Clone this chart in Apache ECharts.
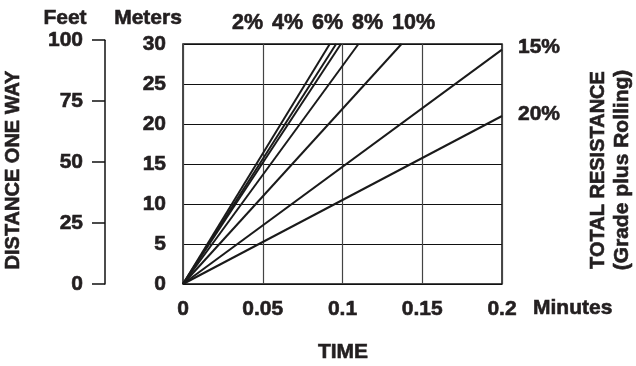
<!DOCTYPE html>
<html>
<head>
<meta charset="utf-8">
<script src="https://cdn.jsdelivr.net/npm/echarts@6/dist/echarts.min.js"></script>
<style>
  html, body { margin: 0; padding: 0; background: #fff; }
  #chart { width: 636px; height: 366px; }
</style>
</head>
<body>
<div id="chart"></div>
<script>
// resistance curves: each line starts at the origin and ends where it leaves the plot
let grades = ['2%', '4%', '6%', '8%', '10%', '15%', '20%'];
let endMinutes = [0.092, 0.096, 0.099, 0.110, 0.137, 0.2, 0.2];
let endMeters = [30, 30, 30, 30, 30, 29.3, 21];

let timeTicks = ['0', '0.05', '0.1', '0.15', '0.2'];
let meterTicks = ['0', '5', '10', '15', '20', '25', '30'];
let feetTicks = ['0', '25', '50', '75', '100'];

let FONT = "'Liberation Sans', Arial, sans-serif";
let INK = '#231f20';

let chartDom = document.getElementById('chart');
let myChart = echarts.init(chartDom);

let series = grades.map(function (g, i) {
  return {
    name: g,
    type: 'line',
    xAxisIndex: 0,
    yAxisIndex: 0,
    data: [[0, 0], [endMinutes[i], endMeters[i]]],
    showSymbol: false,
    symbol: 'none',
    lineStyle: { color: '#1a1a1a', width: 2 },
    silent: true
  };
});

function txt(text, x, y, size, align, rot) {
  return {
    type: 'text',
    x: x,
    y: y,
    rotation: rot || 0,
    style: {
      text: text,
      fill: INK,
      stroke: INK,
      lineWidth: 0.6,
      font: 'bold ' + size + 'px ' + FONT,
      textAlign: align || 'center',
      textVerticalAlign: 'middle'
    }
  };
}

// grade labels above the plot
let topLabels = [];
let topX = [232, 272, 312, 352, 392];
for (let i = 0; i < 5; i++) {
  topLabels.push(txt(grades[i], topX[i], 23, 21.5, 'left'));
}

let tickLabel = {
  color: INK,
  fontSize: 21,
  fontWeight: 'bold',
  fontFamily: FONT,
  textBorderColor: INK,
  textBorderWidth: 0.6
};

let option = {
  animation: false,
  grid: [
    { left: 183, top: 44, width: 319, height: 240, show: true, borderColor: '#111', borderWidth: 1.5 },
    { left: 105, top: 40.2, width: 1, height: 243.8 }
  ],
  xAxis: [
    {
      gridIndex: 0,
      type: 'value',
      min: 0, max: 0.2, interval: 0.05,
      axisLine: { show: false },
      axisTick: { show: false },
      splitLine: { show: true, lineStyle: { color: '#444', width: 1.2 } },
      axisLabel: Object.assign({
        margin: 15,
        formatter: function (v, i) { return timeTicks[i]; }
      }, tickLabel)
    },
    { gridIndex: 1, type: 'value', min: 0, max: 1, show: false }
  ],
  yAxis: [
    {
      gridIndex: 0,
      type: 'value',
      min: 0, max: 30, interval: 5,
      axisLine: { show: false },
      axisTick: { show: false },
      splitLine: { show: true, lineStyle: { color: '#111', width: 1.2 } },
      axisLabel: Object.assign({
        margin: 17,
        formatter: function (v, i) { return meterTicks[i]; }
      }, tickLabel)
    },
    {
      gridIndex: 1,
      type: 'value',
      position: 'left',
      min: 0, max: 100, interval: 25,
      axisLine: { show: true, lineStyle: { color: '#111', width: 1.5 } },
      axisTick: { show: true, length: 13, lineStyle: { color: '#111', width: 1.5 } },
      splitLine: { show: false },
      axisLabel: Object.assign({
        margin: 22,
        formatter: function (v, i) { return feetTicks[i]; }
      }, tickLabel)
    }
  ],
  graphic: topLabels.concat([
    txt('Feet', 65, 18, 21),
    txt('Meters', 148, 18, 21),
    txt(grades[5], 518, 47, 21, 'left'),
    txt(grades[6], 518, 114, 21, 'left'),
    txt('Minutes', 533, 308, 21, 'left'),
    txt('TIME', 343, 352, 21),
    txt('DISTANCE ONE WAY', 13, 170, 20, 'center', Math.PI / 2),
    txt('TOTAL RESISTANCE', 598, 170, 20, 'center', Math.PI / 2),
    txt('(Grade plus Rolling)', 622, 170, 21, 'center', Math.PI / 2)
  ]),
  series: series
};

myChart.setOption(option);
window.addEventListener('resize', () => {
  myChart.resize();
});
</script>
</body>
</html>
